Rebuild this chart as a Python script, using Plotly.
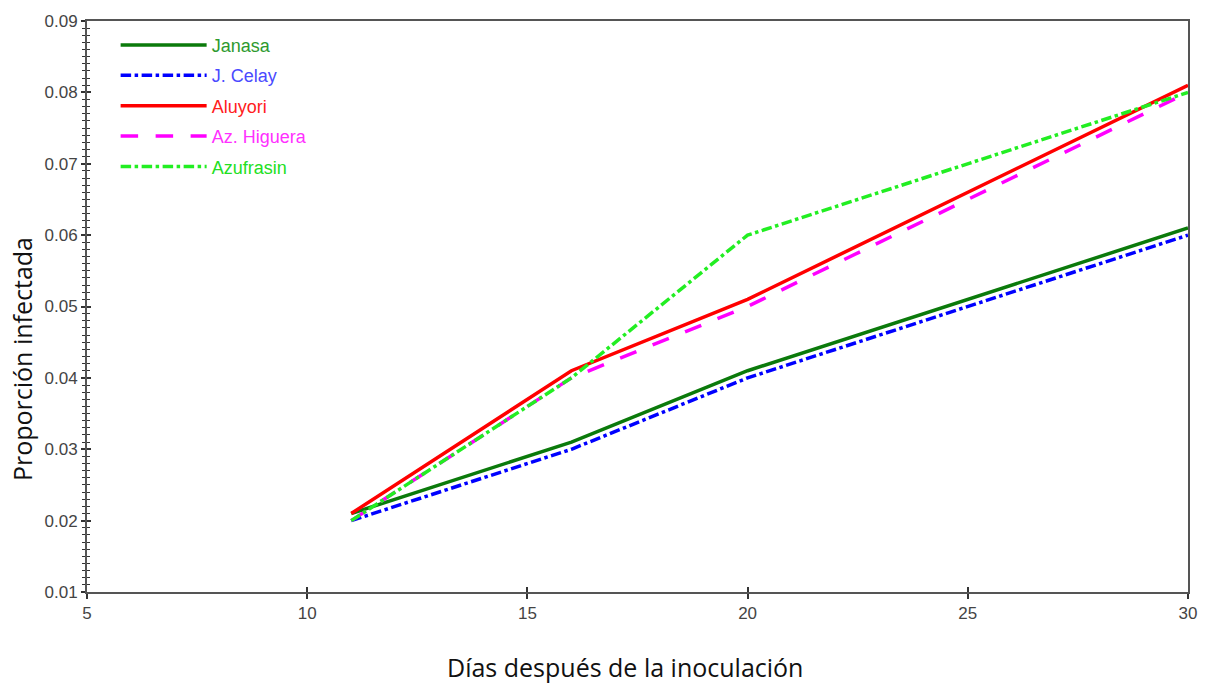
import plotly.graph_objects as go

dias = [11, 16, 20, 30]
janasa = [0.021, 0.031, 0.041, 0.061]
j_celay = [0.020, 0.030, 0.040, 0.060]
aluyori = [0.021, 0.041, 0.051, 0.081]
az_higuera = [0.020, 0.040, 0.050, 0.080]
azufrasin = [0.020, 0.040, 0.060, 0.080]

x_ticks = [5, 10, 15, 20, 25, 30]
y_ticks = [0.01, 0.02, 0.03, 0.04, 0.05, 0.06, 0.07, 0.08, 0.09]

series = [
    ("Janasa", janasa, "#0b7a0b", "solid", "#2e9a2e"),
    ("J. Celay", j_celay, "#0000ff", "dashdot", "#4a4aff"),
    ("Aluyori", aluyori, "#ff0000", "solid", "#ff2020"),
    ("Az. Higuera", az_higuera, "#ff00ff", "longdash", "#ff30ff"),
    ("Azufrasin", azufrasin, "#22ee22", "dashdot", "#22e022"),
]

fig = go.Figure()
for i, (name, vals, col, dash, tcol) in enumerate(series):
    fig.add_trace(go.Scatter(
        x=dias, y=vals, mode="lines",
        name=f'<span style="color:{tcol}">{name}</span>',
        legendgroup=f"g{i}",
        line=dict(color=col, width=3.5, dash=dash),
    ))

axis_font = dict(family="Liberation Sans, Arial", size=17, color="#444444")
title_font = dict(family="Open Sans, Noto Sans", size=25, color="#111111")
fig.update_layout(
    width=1209, height=687,
    margin=dict(l=87, r=20, t=16, b=95),
    plot_bgcolor="white", paper_bgcolor="white",
    showlegend=True,
    legend=dict(
        x=0.026, y=0.99, xanchor="left", yanchor="top",
        bgcolor="rgba(0,0,0,0)",
        font=dict(family="Liberation Sans, Arial", size=18),
        traceorder="grouped", tracegroupgap=4, itemwidth=86,
    ),
    xaxis=dict(
        range=[5, 30], tickvals=x_ticks, ticktext=[str(v) for v in x_ticks],
        showgrid=False, zeroline=False,
        showline=True, linecolor="#555555", linewidth=2, mirror=True,
        ticks="outside", ticklen=5, tickwidth=1.5, tickcolor="#333333",
        tickfont=axis_font,
    ),
    yaxis=dict(
        range=[0.01, 0.09], tickvals=y_ticks, ticktext=[f"{v:.2f}" for v in y_ticks],
        showgrid=False, zeroline=False,
        showline=True, linecolor="#555555", linewidth=2, mirror=True,
        ticks="outside", ticklen=4, tickwidth=1.5, tickcolor="#333333",
        minor=dict(dtick=0.001, tick0=0.01, ticks="outside", ticklen=3, tickwidth=1.2, tickcolor="#333333"),
        tickfont=axis_font,
    ),
    xaxis2=dict(overlaying="x", matches="x", range=[5, 30], tickvals=x_ticks, showticklabels=False,
                showgrid=False, zeroline=False, ticks="inside", ticklen=5, tickwidth=1.5,
                tickcolor="#333333", side="bottom"),
    yaxis2=dict(overlaying="y", range=[0.01, 0.09], tickvals=y_ticks, showticklabels=False,
                showgrid=False, zeroline=False, ticks="inside", ticklen=4, tickwidth=1.5,
                tickcolor="#333333", side="left",
                minor=dict(dtick=0.001, tick0=0.01, ticks="inside", ticklen=3, tickwidth=1.2, tickcolor="#333333")),
    annotations=[
        dict(text="Días después de la inoculación", xref="paper", yref="paper",
             x=(625 - 87) / 1102, y=-(668 - 592) / 576, xanchor="center", yanchor="middle",
             showarrow=False, font=title_font),
        dict(text="Proporción infectada", xref="paper", yref="paper",
             x=-(87 - 22) / 1102, y=(592 - 357) / 576, xanchor="center", yanchor="middle",
             textangle=-90, showarrow=False, font=title_font),
    ],
)
fig.add_trace(go.Scatter(x=[None], y=[None], xaxis="x2", yaxis="y2", showlegend=False, hoverinfo="skip"))

fig.write_html("out.html")
